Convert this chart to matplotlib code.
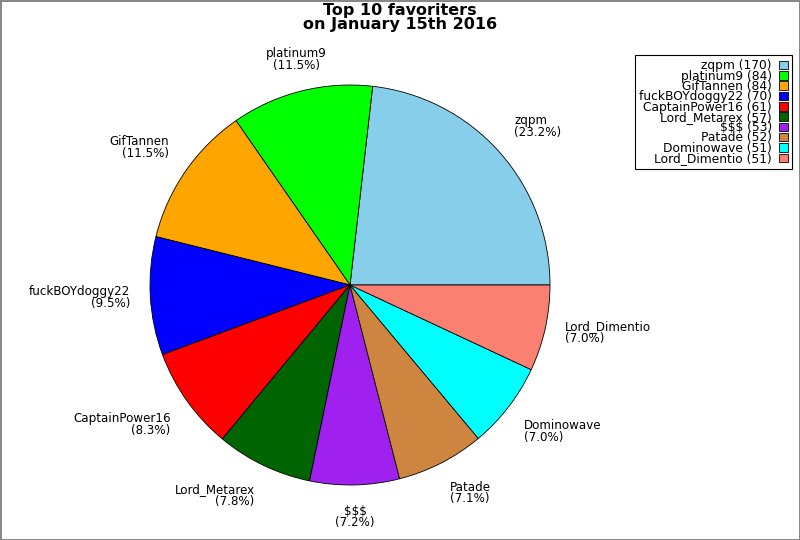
import numpy as np
import matplotlib
matplotlib.use("Agg")
import matplotlib.pyplot as plt
from matplotlib.patches import Patch

names = ["zqpm", "platinum9", "GifTannen", "fuckBOYdoggy22", "CaptainPower16",
         "Lord_Metarex", "$$$", "Patade", "Dominowave", "Lord_Dimentio"]
counts = [170, 84, 84, 70, 61, 57, 53, 52, 51, 51]
colors = ["#87ceeb", "#00ff00", "#ffa500", "#0000ff", "#ff0000",
          "#006400", "#a020f0", "#cd853f", "#00ffff", "#fa8072"]
title = "Top 10 favoriters\non January 15th 2016"

fig = plt.figure(figsize=(8, 5.4), dpi=100)
fig.patch.set_edgecolor("#888888")
fig.patch.set_linewidth(2)

ax = fig.add_axes([150 / 800, 55 / 540, 400 / 800, 400 / 540])
wedges, _ = ax.pie(counts, colors=colors, startangle=0, counterclock=True,
                   wedgeprops=dict(edgecolor="black", linewidth=0.6))
ax.set_xlim(-1, 1)
ax.set_ylim(-1, 1)
ax.set_aspect("equal")
ax.axis("off")

# labels outside the pie, aligned by the side they sit on
total = sum(counts)
for w, name, c in zip(wedges, names, counts):
    ang = np.deg2rad((w.theta1 + w.theta2) / 2)
    x, y = 1.1 * np.cos(ang), 1.1 * np.sin(ang)
    cx, sy = np.cos(ang), np.sin(ang)
    ha = "left" if cx > 0.35 else ("right" if cx < -0.35 else "center")
    va = "bottom" if sy > 0.35 else ("top" if sy < -0.35 else "center")
    ax.text(x, y, "%s\n(%.1f%%)" % (name, 100.0 * c / total), ha=ha, va=va,
            multialignment=ha, fontsize=8.6, linespacing=0.85, clip_on=False)

fig.text(0.5, 0.995, title, ha="center", va="top", fontsize=11.5,
         fontweight="bold", linespacing=0.95)

handles = [Patch(facecolor=col, edgecolor="black", linewidth=0.6) for col in colors]
leg = fig.legend(handles, ["%s (%d)" % (n, c) for n, c in zip(names, counts)],
                 loc="upper right", bbox_to_anchor=(792 / 800, 1 - 55 / 540),
                 markerfirst=False, fontsize=8.8, labelspacing=-0.22,
                 handlelength=0.7, handleheight=0.7, handletextpad=0.6,
                 borderpad=0.35, borderaxespad=0, fancybox=False, framealpha=1,
                 edgecolor="black")
leg.get_frame().set_linewidth(0.8)
for t in leg.get_texts():
    t.set_ha("right")

fig.savefig("out.png", dpi=100, edgecolor=fig.get_edgecolor())
